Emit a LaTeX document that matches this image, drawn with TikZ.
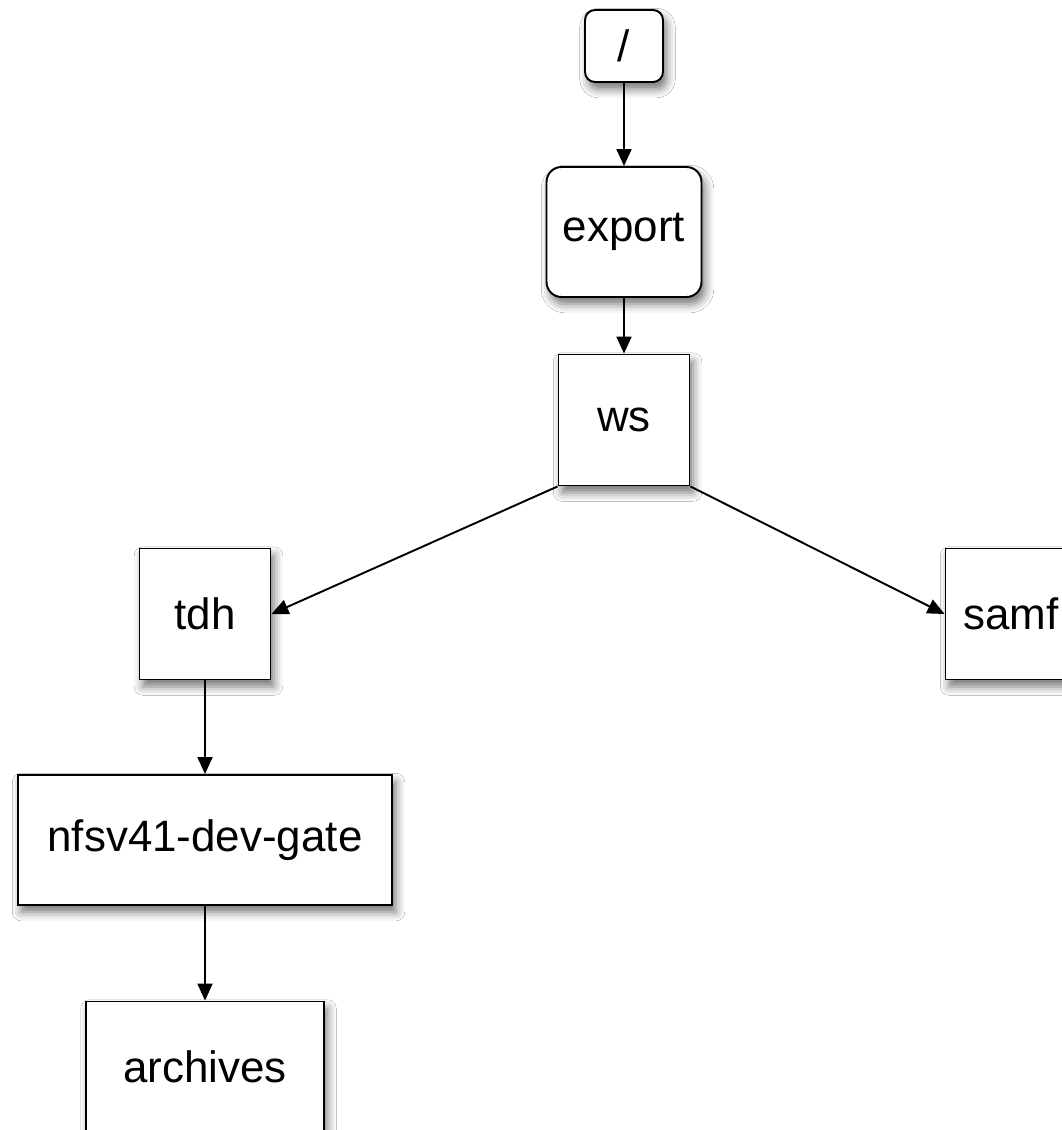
\documentclass[tikz,border=0pt]{standalone}
\usepackage{fontspec}
\setmainfont{Liberation Sans}
\usetikzlibrary{arrows.meta,shadows.blur}

\begin{document}
\begin{tikzpicture}[x=0.02cm,y=-0.02cm,
		dirbox/.style={draw,line width=1.1pt,fill=white,minimum width=2.62cm,minimum height=2.62cm,
			font=\fontsize{25}{30}\selectfont,
			blur shadow={shadow xshift=2pt,shadow yshift=-4pt,shadow blur radius=5pt,shadow opacity=55}},
		link/.style={line width=1.1pt,-{Triangle[length=0.34cm,width=0.3cm]}}]
		
		\clip (0,0) rectangle (1062,1130);
		\fill[white] (0,0) rectangle (1062,1130);
		
		% top of the tree
		\node[dirbox,rounded corners=0.2cm,minimum width=1.56cm,minimum height=1.44cm] (root) at (624,46) {/};
		\node[dirbox,rounded corners=0.3cm,minimum width=3.1cm,minimum height=2.6cm] (export) at (624,232) {export};
		\node[dirbox] (ws) at (624,420) {ws};
		
		% second level
		\node[dirbox] (tdh) at (205,614) {tdh};
		\node[dirbox] (samf) at (1011,614) {samf};
		
		% below tdh
		\node[dirbox,minimum width=7.5cm,minimum height=2.6cm] (gate) at (205,840) {nfsv41-dev-gate};
		\node[dirbox,minimum width=4.76cm] (archives) at (205,1067) {archives};
		
		
		\draw[link] (root) -- (export);
		\draw[link] (export) -- (ws);
		\draw[link] (ws.south west) -- (tdh.east);
		\draw[link] (ws.south east) -- (samf.west);
		\draw[link] (tdh) -- (gate);
		\draw[link] (gate) -- (archives);
		
	\end{tikzpicture}
\end{document}
